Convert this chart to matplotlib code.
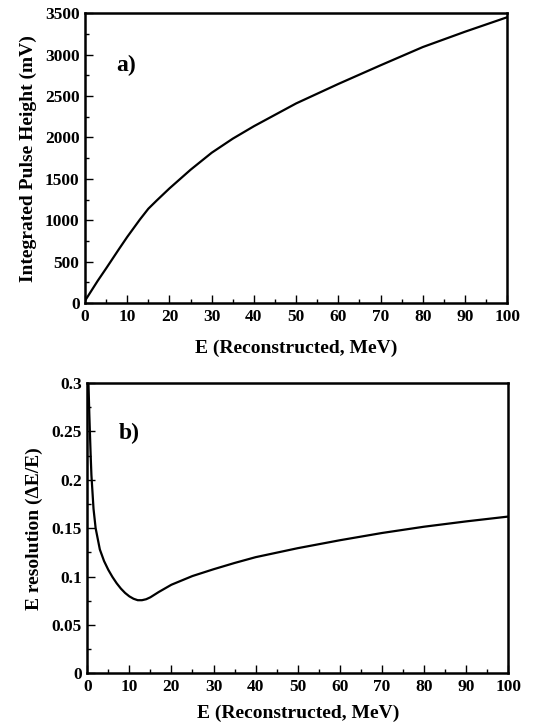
import matplotlib
matplotlib.use("Agg")
import matplotlib.pyplot as plt
from matplotlib.ticker import MultipleLocator

plt.rcParams['font.family'] = ['Liberation Serif', 'DejaVu Serif']
plt.rcParams['font.weight'] = 'bold'

# panel a) pulse height vs reconstructed energy
e_a = [0, 1, 3, 5, 8, 10, 13, 15, 17, 20, 25, 30, 35, 40, 50, 60, 70, 80, 90, 100]
ph = [30, 110, 270, 420, 650, 800, 1010, 1140, 1240, 1385, 1610, 1815, 1985, 2135, 2410, 2645, 2870, 3090, 3275, 3450]

# panel b) energy resolution
e_b = [0.3, 0.5, 0.8, 1, 1.5, 2, 3, 4, 5, 6, 7, 8, 9, 10, 11, 12, 13, 14, 15, 17, 20, 25, 30, 35, 40, 50, 60, 70, 80, 90, 100]
res = [0.300, 0.268, 0.228, 0.205, 0.170, 0.150, 0.128, 0.116, 0.107, 0.0995, 0.093, 0.0875, 0.083, 0.0795, 0.077, 0.0755, 0.0755, 0.0765, 0.0785, 0.0840, 0.0915, 0.1005, 0.1075, 0.1140, 0.1200, 0.1293, 0.1375, 0.1450, 0.1515, 0.1570, 0.1620]

fig = plt.figure(figsize=(5.35, 7.27), dpi=100)
ax1 = fig.add_axes([0.159, 0.583, 0.789, 0.399])
ax2 = fig.add_axes([0.163, 0.074, 0.787, 0.399])

ax1.plot(e_a, ph, color='black', lw=1.6)
ax1.set_xlim(0, 100)
ax1.set_ylim(0, 3500)
ax1.yaxis.set_major_locator(MultipleLocator(500))
ax1.yaxis.set_minor_locator(MultipleLocator(250))
ax1.set_ylabel('Integrated Pulse Height (mV)', fontsize=14, fontweight='bold', labelpad=6)
ax1.set_xlabel('E (Reconstructed, MeV)', fontsize=14, fontweight='bold', labelpad=11)
ax1.text(7.3, 2870, 'a)', fontsize=17, fontweight='bold', va='center')

ax2.plot(e_b, res, color='black', lw=1.6)
ax2.set_xlim(0, 100)
ax2.set_ylim(0, 0.3)
ax2.yaxis.set_major_locator(MultipleLocator(0.05))
ax2.yaxis.set_minor_locator(MultipleLocator(0.025))
ax2.yaxis.set_major_formatter(plt.FuncFormatter(lambda v, p: '%g' % round(v, 3)))
ax2.set_ylabel('E resolution (ΔE/E)', fontsize=14, fontweight='bold', labelpad=6)
ax2.set_xlabel('E (Reconstructed, MeV)', fontsize=14, fontweight='bold', labelpad=7)
ax2.text(7.5, 0.248, 'b)', fontsize=17, fontweight='bold', va='center')

for ax in (ax1, ax2):
    ax.xaxis.set_major_locator(MultipleLocator(10))
    ax.xaxis.set_minor_locator(MultipleLocator(5))
    ax.tick_params(which='both', direction='in', top=False, right=False, labelsize=12.5)
    ax.tick_params(which='major', length=6, width=1, pad=4)
    ax.tick_params(which='minor', length=3, width=1)
    for s in ax.spines.values():
        s.set_linewidth(1.8)

fig.savefig('out.png', dpi=100)
